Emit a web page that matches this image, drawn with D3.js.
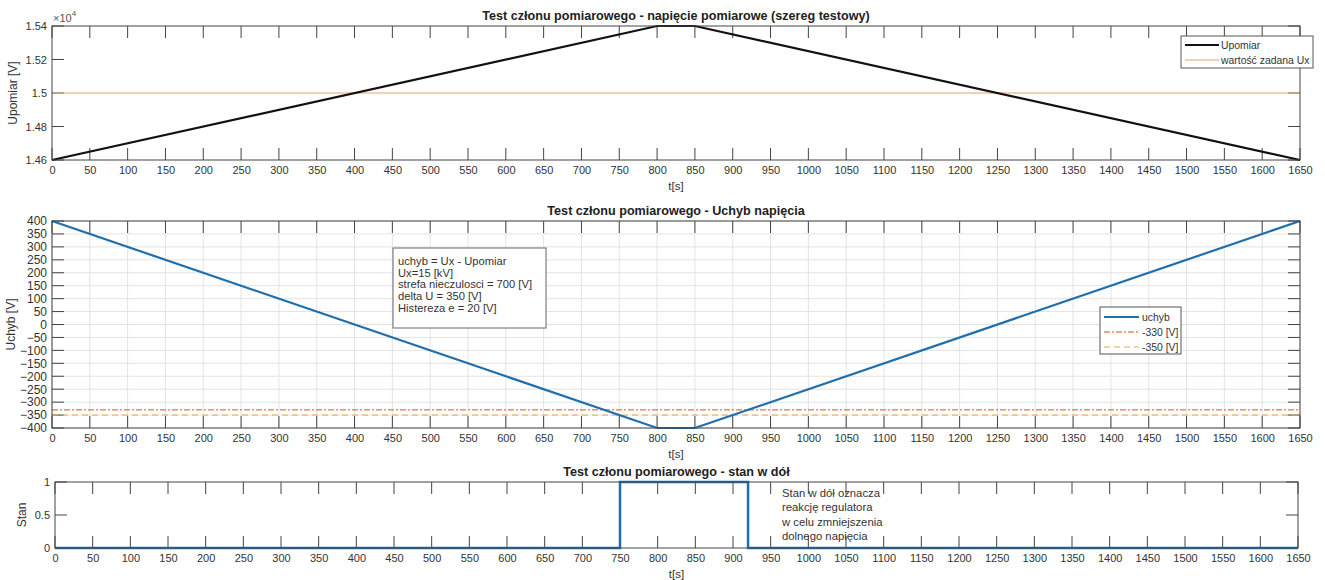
<!DOCTYPE html>
<html>
<head>
<meta charset="utf-8">
<script src="https://cdn.jsdelivr.net/npm/d3@7"></script>
<style>
  body { margin: 0; background: #fff; }
  svg { font-family: "Liberation Sans", Arial, sans-serif; }
</style>
</head>
<body>
<svg></svg>
<script>
const width = 1325;
const height = 580;

// data
const tMeas = [0, 800, 850, 1650];
const upomiar = [14600, 15400, 15400, 14600];
const uxSet = 15000;
const uchyb = [400, -400, -400, 400];
const lim330 = -330;
const lim350 = -350;
const tStan = [0, 750, 750, 920, 920, 1650];
const stan = [0, 0, 1, 1, 0, 0];

const xTicks = d3.range(0, 1651, 50);
const yTicks1 = [14600, 14800, 15000, 15200, 15400];
const yTicks2 = d3.range(-400, 401, 50);
const yTicks3 = [0, 0.5, 1];

const infoLines = ["uchyb = Ux - Upomiar", "Ux=15 [kV]", "strefa nieczulosci = 700 [V]", "delta U = 350 [V]", "Histereza e = 20 [V]"];
const noteLines = ["Stan w dół oznacza", "reakcję regulatora", "w celu zmniejszenia", "dolnego napięcia"];

const textCol = "#333";
const blue = "#1f6fae";
const orange = "#d95319";
const yellow = "#d9b040";

const svg = d3.select("svg").attr("width", width).attr("height", height);

// one MATLAB-like panel
function panel(cfg) {
  const g = svg.append("g");
  const x = d3.scaleLinear().domain([0, 1650]).range([cfg.left, cfg.right]);
  const y = d3.scaleLinear().domain(cfg.ydom).range([cfg.bottom, cfg.top]);
  const tick = 12;

  if (cfg.grid) {
    g.append("g").selectAll("line").data(xTicks).enter().append("line")
      .attr("x1", d => x(d)).attr("x2", d => x(d))
      .attr("y1", cfg.top).attr("y2", cfg.bottom)
      .attr("stroke", "#e3e3e3").attr("stroke-width", 1);
    g.append("g").selectAll("line").data(cfg.yticks).enter().append("line")
      .attr("x1", cfg.left).attr("x2", cfg.right)
      .attr("y1", d => y(d)).attr("y2", d => y(d))
      .attr("stroke", "#e3e3e3").attr("stroke-width", 1);
  }

  // axes with inward ticks
  const bottomAx = d3.axisBottom(x).tickValues(xTicks).tickSize(0).tickPadding(6)
    .tickFormat(d3.format("d"));
  const ba = g.append("g").attr("transform", `translate(0,${cfg.bottom})`).call(bottomAx);
  ba.select(".domain").remove();
  ba.selectAll("text").attr("fill", textCol).style("font-size", "11px");

  const leftAx = d3.axisLeft(y).tickValues(cfg.yticks).tickSize(0).tickPadding(5)
    .tickFormat(cfg.yfmt);
  const la = g.append("g").attr("transform", `translate(${cfg.left},0)`).call(leftAx);
  la.select(".domain").remove();
  la.selectAll("text").attr("fill", textCol).style("font-size", cfg.yfs || "11px");

  const tg = g.append("g").attr("stroke", "#444").attr("stroke-width", 1);
  xTicks.forEach(d => {
    tg.append("line").attr("x1", x(d)).attr("x2", x(d)).attr("y1", cfg.bottom).attr("y2", cfg.bottom - tick);
    tg.append("line").attr("x1", x(d)).attr("x2", x(d)).attr("y1", cfg.top).attr("y2", cfg.top + tick);
  });
  cfg.yticks.forEach(d => {
    tg.append("line").attr("x1", cfg.left).attr("x2", cfg.left + tick).attr("y1", y(d)).attr("y2", y(d));
    tg.append("line").attr("x1", cfg.right).attr("x2", cfg.right - tick).attr("y1", y(d)).attr("y2", y(d));
  });

  // titles and labels
  svg.append("text").attr("x", (cfg.left + cfg.right) / 2).attr("y", cfg.top - 6)
    .attr("text-anchor", "middle").attr("font-weight", "bold").attr("font-size", "12.6px")
    .attr("fill", "#222").text(cfg.title);
  svg.append("text").attr("x", (cfg.left + cfg.right) / 2).attr("y", cfg.bottom + 30)
    .attr("text-anchor", "middle").attr("font-size", "11.5px").attr("fill", textCol).text("t[s]");
  svg.append("text").attr("transform", `translate(${cfg.ylabX},${(cfg.top + cfg.bottom) / 2}) rotate(-90)`)
    .attr("text-anchor", "middle").attr("font-size", "12px").attr("fill", textCol).text(cfg.ylab);

  return { g, x, y, cfg };
}

function box(p) {
  const c = p.cfg;
  p.g.append("rect").attr("x", c.left).attr("y", c.top)
    .attr("width", c.right - c.left).attr("height", c.bottom - c.top)
    .attr("fill", "none").attr("stroke", "#444").attr("stroke-width", 1);
}

// panel 1
const p1 = panel({
  left: 52, right: 1300, top: 26, bottom: 160, ydom: [14600, 15400],
  yticks: yTicks1, yfmt: d => d3.format("")(d / 1e4), grid: false,
  title: "Test członu pomiarowego - napięcie pomiarowe (szereg testowy)",
  ylab: "Upomiar [V]", ylabX: 17
});
p1.g.append("line").attr("x1", p1.x(0)).attr("x2", p1.x(1650))
  .attr("y1", p1.y(uxSet)).attr("y2", p1.y(uxSet))
  .attr("stroke", "#e8a070").attr("stroke-width", 1);
p1.g.append("path").datum(tMeas.map((t, i) => [t, upomiar[i]]))
  .attr("d", d3.line().x(d => p1.x(d[0])).y(d => p1.y(d[1])))
  .attr("fill", "none").attr("stroke", "#111").attr("stroke-width", 2.2);
box(p1);
const exp = svg.append("text").attr("x", 53).attr("y", 22).attr("font-size", "11px").attr("fill", "#555");
exp.append("tspan").text("×10");
exp.append("tspan").attr("dy", -6).attr("font-size", "8px").text("4");

// legend panel 1
const lg1 = svg.append("g");
lg1.append("rect").attr("x", 1181).attr("y", 36).attr("width", 132).attr("height", 32)
  .attr("fill", "#fff").attr("stroke", "#555");
lg1.append("line").attr("x1", 1185).attr("x2", 1219).attr("y1", 45).attr("y2", 45)
  .attr("stroke", "#111").attr("stroke-width", 2.2);
lg1.append("line").attr("x1", 1185).attr("x2", 1219).attr("y1", 60).attr("y2", 60)
  .attr("stroke", "#e8a070").attr("stroke-width", 1);
lg1.append("text").attr("x", 1221).attr("y", 49).attr("font-size", "10.4px").attr("fill", textCol).text("Upomiar");
lg1.append("text").attr("x", 1221).attr("y", 64).attr("font-size", "10.4px").attr("fill", textCol).text("wartość zadana Ux");

// panel 2
const p2 = panel({
  left: 52, right: 1300, top: 221, bottom: 428, ydom: [-400, 400],
  yticks: yTicks2, yfmt: d3.format(""), grid: true, yfs: "12px",
  title: "Test członu pomiarowego - Uchyb napięcia",
  ylab: "Uchyb [V]", ylabX: 15
});
p2.g.append("line").attr("x1", p2.x(0)).attr("x2", p2.x(1650))
  .attr("y1", p2.y(lim330)).attr("y2", p2.y(lim330))
  .attr("stroke", orange).attr("stroke-width", 1).attr("stroke-dasharray", "6,2,2,2");
p2.g.append("line").attr("x1", p2.x(0)).attr("x2", p2.x(1650))
  .attr("y1", p2.y(lim350)).attr("y2", p2.y(lim350))
  .attr("stroke", yellow).attr("stroke-width", 1).attr("stroke-dasharray", "6,4");
p2.g.append("path").datum(tMeas.map((t, i) => [t, uchyb[i]]))
  .attr("d", d3.line().x(d => p2.x(d[0])).y(d => p2.y(d[1])))
  .attr("fill", "none").attr("stroke", blue).attr("stroke-width", 2.2);
box(p2);

// info text box
const ib = svg.append("g");
ib.append("rect").attr("x", 393).attr("y", 248).attr("width", 153).attr("height", 80)
  .attr("fill", "#fff").attr("stroke", "#666");
infoLines.forEach((s, i) => {
  ib.append("text").attr("x", 398).attr("y", 265 + i * 11.7).attr("font-size", "11.2px")
    .attr("fill", textCol).text(s);
});

// legend panel 2
const lg2 = svg.append("g");
lg2.append("rect").attr("x", 1100).attr("y", 307).attr("width", 81).attr("height", 47)
  .attr("fill", "#fff").attr("stroke", "#555");
lg2.append("line").attr("x1", 1104).attr("x2", 1139).attr("y1", 317).attr("y2", 317)
  .attr("stroke", blue).attr("stroke-width", 2.2);
lg2.append("line").attr("x1", 1104).attr("x2", 1139).attr("y1", 332).attr("y2", 332)
  .attr("stroke", orange).attr("stroke-width", 1).attr("stroke-dasharray", "6,2,2,2");
lg2.append("line").attr("x1", 1104).attr("x2", 1139).attr("y1", 347).attr("y2", 347)
  .attr("stroke", yellow).attr("stroke-width", 1).attr("stroke-dasharray", "6,4");
["uchyb", "-330 [V]", "-350 [V]"].forEach((s, i) => {
  lg2.append("text").attr("x", 1142).attr("y", 321 + i * 15).attr("font-size", "10.4px")
    .attr("fill", textCol).text(s);
});

// panel 3
const p3 = panel({
  left: 55, right: 1298, top: 482, bottom: 548, ydom: [0, 1],
  yticks: yTicks3, yfmt: d3.format(""), grid: false,
  title: "Test członu pomiarowego - stan w dół",
  ylab: "Stan", ylabX: 26
});
p3.g.append("path").datum(tStan.map((t, i) => [t, stan[i]]))
  .attr("d", d3.line().x(d => p3.x(d[0])).y(d => p3.y(d[1])))
  .attr("fill", "none").attr("stroke", blue).attr("stroke-width", 2.5);
box(p3);

noteLines.forEach((s, i) => {
  svg.append("text").attr("x", 782).attr("y", 497 + i * 14.3).attr("font-size", "11.3px")
    .attr("fill", textCol).text(s);
});
</script>
</body>
</html>
